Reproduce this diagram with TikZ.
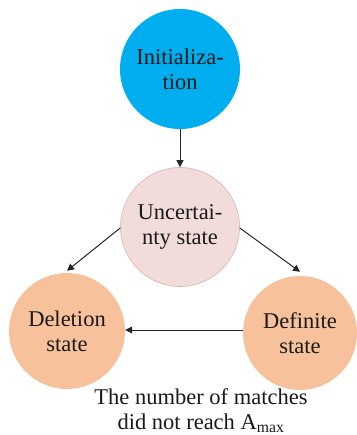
\documentclass[tikz,border=0pt]{standalone}
\usepackage{fontspec}
\setmainfont{Liberation Serif}
\usetikzlibrary{arrows.meta}
\definecolor{initblue}{HTML}{00AEEF}
\definecolor{uncpink}{HTML}{F2DCDB}
\definecolor{uncedge}{HTML}{DDB2B0}
\definecolor{stateorange}{HTML}{F7C29B}
\tikzset{
  state/.style={circle, inner sep=0pt, align=center,
    font=\fontsize{22.5}{25}\selectfont, text=black!90},
  link/.style={draw=black!85, line width=1pt, -{Triangle[length=7pt,width=7pt]}},
}
\begin{document}
\begin{tikzpicture}[x=1pt, y=-1pt]
  \useasboundingbox (0,0) rectangle (356,435);
  % the four states
  \node[state, fill=initblue, minimum size=120pt] (init) at (180,69) {Initializa-\\tion};
  \node[state, fill=uncpink, draw=uncedge, line width=0.6pt, minimum size=119pt] (unc) at (180,227) {Uncertai-\\nty state};
  \node[state, fill=stateorange, minimum size=116pt] (del) at (67,331) {Deletion\\state};
  \node[state, fill=stateorange, minimum size=114pt] (def) at (300,333) {Definite\\state};
  % transitions
  \draw[link] (init.south) -- (unc.north);
  \draw[link] ([yshift=-1pt]unc.west) -- ([yshift=2pt]del.north);
  \draw[link] ([yshift=-1pt]unc.east) -- ([yshift=4pt]def.north);
  \draw[link] ([yshift=3pt]def.west) -- ([yshift=1pt]del.east);
  % condition for leaving the definite state
  \node[align=center, font=\fontsize{22.5}{25}\selectfont, text=black!90, inner sep=0pt]
    (cond) at (201,411) {The number of matches\\did not reach A\textsubscript{max}};
\end{tikzpicture}
\end{document}
